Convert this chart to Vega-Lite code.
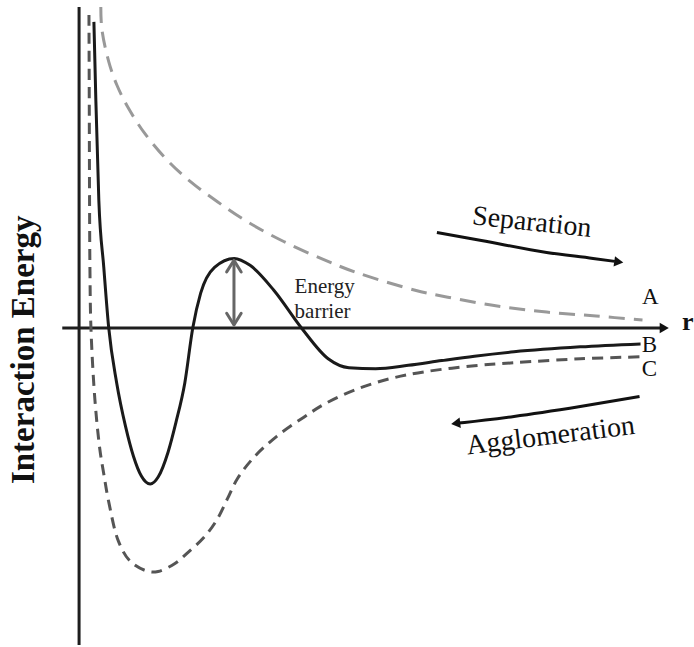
{
  "$schema": "https://vega.github.io/schema/vega-lite/v6.json",
  "width": 694,
  "height": 647,
  "autosize": {"type": "fit", "contains": "padding"},
  "padding": 0,
  "background": "white",
  "config": {"view": {"stroke": null}},
  "datasets": {
    "curves": [
      {"curve": "A", "r": 2.2, "E": 80.75},
      {"curve": "A", "r": 2.3, "E": 75.25},
      {"curve": "A", "r": 3.0, "E": 67},
      {"curve": "A", "r": 3.8, "E": 61.25},
      {"curve": "A", "r": 5.0, "E": 55.25},
      {"curve": "A", "r": 6.7, "E": 48.75},
      {"curve": "A", "r": 9.0, "E": 42},
      {"curve": "A", "r": 11.3, "E": 36.75},
      {"curve": "A", "r": 14.0, "E": 31.75},
      {"curve": "A", "r": 17.0, "E": 26.75},
      {"curve": "A", "r": 20.7, "E": 21.75},
      {"curve": "A", "r": 24.7, "E": 17.25},
      {"curve": "A", "r": 28.0, "E": 14},
      {"curve": "A", "r": 34.0, "E": 9.5},
      {"curve": "A", "r": 37.3, "E": 7.75},
      {"curve": "A", "r": 42.3, "E": 5.5},
      {"curve": "A", "r": 47.3, "E": 4},
      {"curve": "A", "r": 52.3, "E": 3},
      {"curve": "A", "r": 57.0, "E": 2},

      {"curve": "B", "r": 1.5, "E": 77},
      {"curve": "B", "r": 1.7, "E": 57},
      {"curve": "B", "r": 2.0, "E": 32},
      {"curve": "B", "r": 2.5, "E": 15.25},
      {"curve": "B", "r": 3.0, "E": 0},
      {"curve": "B", "r": 3.8, "E": -13.75},
      {"curve": "B", "r": 4.7, "E": -24.75},
      {"curve": "B", "r": 5.5, "E": -32.25},
      {"curve": "B", "r": 6.3, "E": -37.25},
      {"curve": "B", "r": 7.2, "E": -39.25},
      {"curve": "B", "r": 8.0, "E": -37.5},
      {"curve": "B", "r": 9.0, "E": -31.25},
      {"curve": "B", "r": 9.8, "E": -23.75},
      {"curve": "B", "r": 10.7, "E": -13.75},
      {"curve": "B", "r": 11.5, "E": 0},
      {"curve": "B", "r": 12.3, "E": 8.75},
      {"curve": "B", "r": 13.7, "E": 15.25},
      {"curve": "B", "r": 15.7, "E": 17.5},
      {"curve": "B", "r": 17.3, "E": 15.75},
      {"curve": "B", "r": 19.7, "E": 9.5},
      {"curve": "B", "r": 22.5, "E": 0},
      {"curve": "B", "r": 25.2, "E": -7.75},
      {"curve": "B", "r": 27.3, "E": -10.0},
      {"curve": "B", "r": 30.0, "E": -10.25},
      {"curve": "B", "r": 33.3, "E": -9.4},
      {"curve": "B", "r": 36.7, "E": -8.2},
      {"curve": "B", "r": 40.0, "E": -7.1},
      {"curve": "B", "r": 44.0, "E": -6},
      {"curve": "B", "r": 50.7, "E": -4.75},
      {"curve": "B", "r": 56.8, "E": -4},

      {"curve": "C", "r": 1.0, "E": 78.75},
      {"curve": "C", "r": 1.03, "E": 57},
      {"curve": "C", "r": 1.06, "E": 32},
      {"curve": "C", "r": 1.1, "E": 14.5},
      {"curve": "C", "r": 1.2, "E": 0},
      {"curve": "C", "r": 1.6, "E": -18},
      {"curve": "C", "r": 2.1, "E": -30.5},
      {"curve": "C", "r": 2.5, "E": -36.75},
      {"curve": "C", "r": 3.0, "E": -43.75},
      {"curve": "C", "r": 4.0, "E": -53.75},
      {"curve": "C", "r": 5.2, "E": -58.75},
      {"curve": "C", "r": 7.0, "E": -61.25},
      {"curve": "C", "r": 8.0, "E": -61.25},
      {"curve": "C", "r": 9.7, "E": -59.25},
      {"curve": "C", "r": 11.0, "E": -56.5},
      {"curve": "C", "r": 12.7, "E": -52.5},
      {"curve": "C", "r": 14.0, "E": -48},
      {"curve": "C", "r": 15.0, "E": -43},
      {"curve": "C", "r": 16.0, "E": -38},
      {"curve": "C", "r": 17.7, "E": -32.5},
      {"curve": "C", "r": 20.0, "E": -27.25},
      {"curve": "C", "r": 22.7, "E": -22.5},
      {"curve": "C", "r": 25.0, "E": -18.9},
      {"curve": "C", "r": 28.3, "E": -15.2},
      {"curve": "C", "r": 31.7, "E": -12.6},
      {"curve": "C", "r": 35.0, "E": -11},
      {"curve": "C", "r": 40.0, "E": -9.5},
      {"curve": "C", "r": 44.0, "E": -8.75},
      {"curve": "C", "r": 50.7, "E": -7.75},
      {"curve": "C", "r": 57.0, "E": -7.25}
    ],
    "axes": [
      {"r": -1.7, "r2": 58.8, "E": 0, "E2": 0},
      {"r": 0, "r2": 0, "E": 80.75, "E2": -79.75}
    ],
    "arrows": [
      {"seg": "sep", "ord": 1, "r": 36.2, "E": 24},
      {"seg": "sep", "ord": 2, "r": 40.7, "E": 22},
      {"seg": "sep", "ord": 3, "r": 47.3, "E": 19},
      {"seg": "sep", "ord": 4, "r": 52.0, "E": 17.5},
      {"seg": "sep", "ord": 5, "r": 54.2, "E": 16.75},
      {"seg": "agg", "ord": 1, "r": 56.7, "E": -17.25},
      {"seg": "agg", "ord": 2, "r": 50.7, "E": -19.75},
      {"seg": "agg", "ord": 3, "r": 44.0, "E": -22.25},
      {"seg": "agg", "ord": 4, "r": 39.0, "E": -23.75},
      {"seg": "agg", "ord": 5, "r": 38.4, "E": -23.9}
    ],
    "heads": [
      {"shape": "triangle-right", "r": 59.2, "E": 0, "angle": 0},
      {"shape": "triangle-right", "r": 54.6, "E": 16.6, "angle": 8},
      {"shape": "triangle-left", "r": 38.1, "E": -24.0, "angle": -7}
    ],
    "barrier": [
      {"seg": "shaft", "ord": 1, "r": 15.67, "E": 16.2},
      {"seg": "shaft", "ord": 2, "r": 15.67, "E": 1.0},
      {"seg": "top", "ord": 1, "r": 14.93, "E": 14.1},
      {"seg": "top", "ord": 2, "r": 15.67, "E": 17.0},
      {"seg": "top", "ord": 3, "r": 16.4, "E": 14.1},
      {"seg": "bottom", "ord": 1, "r": 14.93, "E": 3.7},
      {"seg": "bottom", "ord": 2, "r": 15.67, "E": 0.75},
      {"seg": "bottom", "ord": 3, "r": 16.4, "E": 3.7}
    ],
    "labels": [
      {"text": "A", "r": 57.8, "E": 7.75},
      {"text": "B", "r": 57.7, "E": -4.25},
      {"text": "C", "r": 57.7, "E": -10.25}
    ],
    "notes": [
      {"text": "Energy", "r": 21.8, "E": 8.75},
      {"text": "barrier", "r": 21.8, "E": 2.5}
    ],
    "flows": [
      {"text": "Separation", "r": 45.8, "E": 26.5, "angle": 6},
      {"text": "Agglomeration", "r": 47.7, "E": -27.25, "angle": -7}
    ]
  },
  "encoding": {
    "x": {"field": "r", "type": "quantitative", "scale": {"domain": [-8, 61.4], "nice": false, "zero": false}, "axis": null},
    "y": {"field": "E", "type": "quantitative", "scale": {"domain": [-79.75, 82], "nice": false, "zero": false}, "axis": null}
  },
  "layer": [
    {
      "data": {"name": "axes"},
      "mark": {"type": "rule", "color": "#1e1e1e", "strokeWidth": 3},
      "encoding": {"x2": {"field": "r2"}, "y2": {"field": "E2"}}
    },
    {
      "data": {"name": "curves"},
      "transform": [{"filter": "datum.curve === 'A'"}],
      "mark": {"type": "line", "interpolate": "catmull-rom", "color": "#999999", "strokeWidth": 3, "strokeDash": [16, 9]}
    },
    {
      "data": {"name": "curves"},
      "transform": [{"filter": "datum.curve === 'C'"}],
      "mark": {"type": "line", "interpolate": "catmull-rom", "color": "#555555", "strokeWidth": 3, "strokeDash": [11, 7]}
    },
    {
      "data": {"name": "curves"},
      "transform": [{"filter": "datum.curve === 'B'"}],
      "mark": {"type": "line", "interpolate": "monotone", "color": "#1a1a1a", "strokeWidth": 3}
    },
    {
      "data": {"name": "barrier"},
      "mark": {"type": "line", "color": "#666666", "strokeWidth": 3, "strokeCap": "round", "strokeJoin": "round"},
      "encoding": {"detail": {"field": "seg"}, "order": {"field": "ord"}}
    },
    {
      "data": {"name": "arrows"},
      "mark": {"type": "line", "interpolate": "monotone", "color": "#111111", "strokeWidth": 3},
      "encoding": {"detail": {"field": "seg"}, "order": {"field": "ord"}}
    },
    {
      "data": {"name": "heads"},
      "mark": {"type": "point", "filled": true, "color": "#111111", "size": 110, "opacity": 1},
      "encoding": {
        "shape": {"field": "shape", "type": "nominal", "scale": null},
        "angle": {"field": "angle", "type": "quantitative", "scale": null}
      }
    },
    {
      "data": {"name": "labels"},
      "mark": {"type": "text", "font": "Liberation Serif", "fontSize": 23, "color": "#111111", "align": "center", "baseline": "middle"},
      "encoding": {"text": {"field": "text"}}
    },
    {
      "data": {"name": "notes"},
      "mark": {"type": "text", "font": "Liberation Serif", "fontSize": 21, "color": "#222222", "align": "left", "baseline": "alphabetic"},
      "encoding": {"text": {"field": "text"}}
    },
    {
      "data": {"name": "flows"},
      "mark": {"type": "text", "font": "Liberation Serif", "fontSize": 28, "color": "#111111", "align": "center", "baseline": "middle"},
      "encoding": {
        "text": {"field": "text"},
        "angle": {"field": "angle", "type": "quantitative", "scale": null}
      }
    },
    {
      "data": {"values": [{"text": "Interaction Energy", "r": -5.6, "E": -5.5}]},
      "mark": {"type": "text", "font": "Liberation Serif", "fontSize": 33, "fontWeight": "bold", "color": "#111111", "angle": 270, "align": "center", "baseline": "middle"},
      "encoding": {"text": {"field": "text"}}
    },
    {
      "data": {"values": [{"text": "r", "r": 61.0, "E": -0.5}]},
      "mark": {"type": "text", "font": "Liberation Serif", "fontSize": 26, "fontWeight": "bold", "color": "#111111", "align": "left", "baseline": "alphabetic"},
      "encoding": {"text": {"field": "text"}}
    }
  ]
}
